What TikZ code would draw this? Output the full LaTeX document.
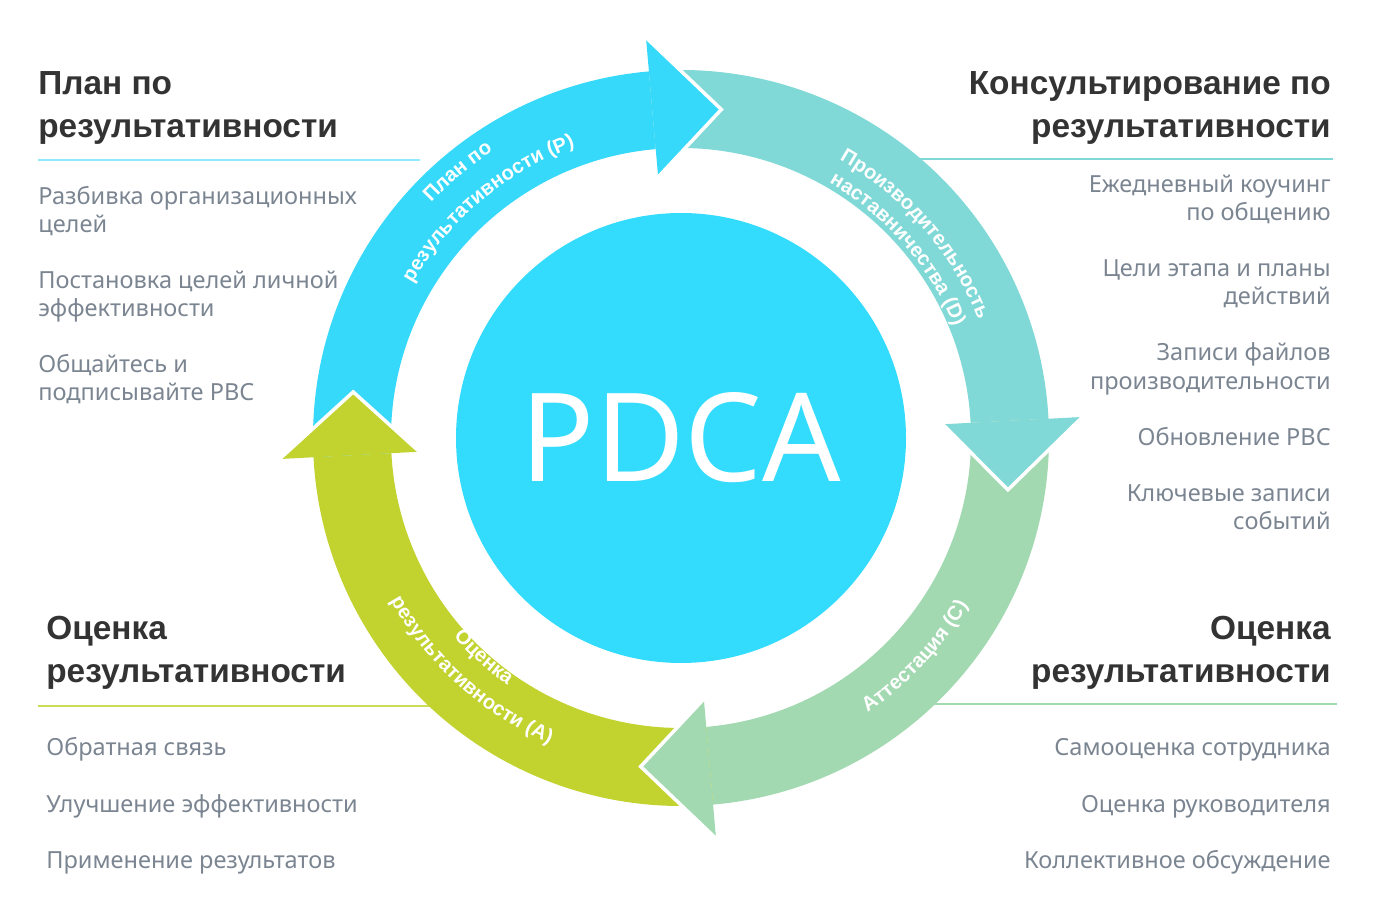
\documentclass[tikz,border=0pt]{standalone}
\usepackage{fontspec}
\setmainfont{Noto Sans}
\newfontfamily\boldf{Liberation Sans}
\usetikzlibrary{decorations.text}
\definecolor{cP}{HTML}{36D9FA}
\definecolor{cD}{HTML}{80D9D6}
\definecolor{cC}{HTML}{A2D9B1}
\definecolor{cA}{HTML}{C2D22F}
\definecolor{cCen}{HTML}{33DBFC}
\definecolor{hd}{HTML}{333333}
\definecolor{it}{HTML}{7B8591}
\newcommand\lblf{\fontsize{11.5}{13}\selectfont\boldf\bfseries}
\newcommand\ringbody[3]{\fill[#1] (#2:368) arc[start angle=#2,end angle=#3,radius=368] -- (#3:290) arc[start angle=#3,end angle=#2,radius=290] -- cycle;}
\newcommand\ringhead[3]{\fill[#1] (#2:402) -- (#3:331) -- (#2:262) -- cycle;
 \draw[white,line width=2pt,line join=miter] (#2:402) -- (#3:331) -- (#2:262);}
\tikzset{
 head/.style={font=\fontsize{19}{25}\selectfont\boldf\bfseries,text=hd,inner sep=0pt},
 item/.style={font=\fontsize{13.4}{16}\selectfont,text=it,inner sep=0pt},
 lbl/.style={decorate,decoration={text along path,text align=center,text color=white}}
}
\begin{document}
\begin{tikzpicture}[x=0.02cm,y=0.02cm]
\useasboundingbox (0,0) rectangle (1373,910);
% heading lines
\draw[cP!55,line width=0.8pt] (38,750) -- (420,750);
\draw[cD,line width=0.8pt] (915,751) -- (1333,751);
\draw[cA!80,line width=0.8pt] (38,204) -- (440,204);
\draw[cC,line width=0.8pt] (930,206) -- (1337,206);
\begin{scope}[shift={(681,472)}]
\ringbody{cP}{183}{95}
\ringbody{cD}{95}{3}
\ringbody{cC}{3}{-85}
\ringbody{cA}{-85}{-177}
\ringhead{cP}{95}{83}
\ringhead{cD}{3}{-9}
\ringhead{cC}{-85}{-97}
\ringhead{cA}{-177}{-188}
\fill[cCen] (0,0) circle (225);
\node[text=white,font=\fontsize{70}{70}\selectfont] (pdca) at (0,0) {PDCA};
\path[lbl,decoration={text={|\lblf|План по}}] (170:343) arc[start angle=170,end angle=90,radius=343];
\path[lbl,decoration={text={|\lblf|результативности (P)}}] (170:310) arc[start angle=170,end angle=90,radius=310];
\path[lbl,decoration={text={|\lblf|Производительность}}] (90:320) arc[start angle=90,end angle=-8,radius=320];
\path[lbl,decoration={text={|\lblf|наставничества (D)}}] (90:295) arc[start angle=90,end angle=-8,radius=295];
\path[lbl,decoration={text={|\lblf|Аттестация (C)}}] (-93:332) arc[start angle=-93,end angle=7,radius=332];
\path[lbl,decoration={text={|\lblf|Оценка}}] (-182:302) arc[start angle=-182,end angle=-82,radius=302];
\path[lbl,decoration={text={|\lblf|результативности (A)}}] (-182:333) arc[start angle=-182,end angle=-82,radius=333];
\end{scope}
% top-left
\node[head,anchor=base west] (tl1) at (38,815) {План по};
\node[head,anchor=base west] (tl2) at (38,772) {результативности};
\node[item,anchor=base west] (tla) at (38,705) {Разбивка организационных};
\node[item,anchor=base west] (tlb) at (38,677) {целей};
\node[item,anchor=base west] (tlc) at (38,621) {Постановка целей личной};
\node[item,anchor=base west] (tld) at (38,593) {эффективности};
\node[item,anchor=base west] (tle) at (38,537) {Общайтесь и};
\node[item,anchor=base west] (tlf) at (38,509) {подписывайте PBC};
% top-right
\node[head,anchor=base east] (tr1) at (1331,815) {Консультирование по};
\node[head,anchor=base east] (tr2) at (1331,772) {результативности};
\node[item,anchor=base east] (tra) at (1331,717) {Ежедневный коучинг};
\node[item,anchor=base east] (trb) at (1331,689) {по общению};
\node[item,anchor=base east] (trc) at (1331,633) {Цели этапа и планы};
\node[item,anchor=base east] (trd) at (1331,605) {действий};
\node[item,anchor=base east] (tre) at (1331,549) {Записи файлов};
\node[item,anchor=base east] (trf) at (1331,520) {производительности};
\node[item,anchor=base east] (trg) at (1331,464) {Обновление PBC};
\node[item,anchor=base east] (trh) at (1331,408) {Ключевые записи};
\node[item,anchor=base east] (tri) at (1331,380) {событий};
% bottom-left
\node[head,anchor=base west] (bl1) at (46,270) {Оценка};
\node[head,anchor=base west] (bl2) at (46,227) {результативности};
\node[item,anchor=base west] (bla) at (46,154) {Обратная связь};
\node[item,anchor=base west] (blb) at (46,98) {Улучшение эффективности};
\node[item,anchor=base west] (blc) at (46,42) {Применение результатов};
% bottom-right
\node[head,anchor=base east] (br1) at (1331,270) {Оценка};
\node[head,anchor=base east] (br2) at (1331,227) {результативности};
\node[item,anchor=base east] (bra) at (1331,154) {Самооценка сотрудника};
\node[item,anchor=base east] (brb) at (1331,98) {Оценка руководителя};
\node[item,anchor=base east] (brc) at (1331,42) {Коллективное обсуждение};
\end{tikzpicture}
\end{document}
